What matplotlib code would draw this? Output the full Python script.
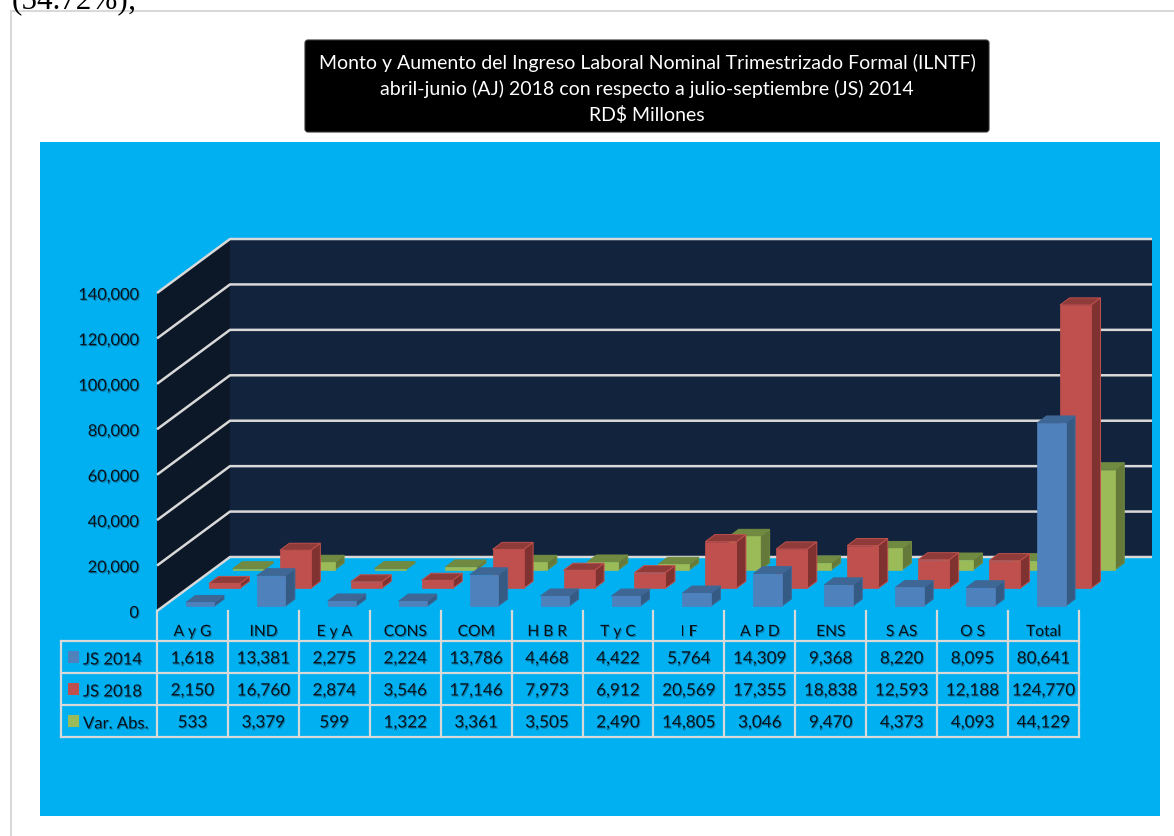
#!/usr/bin/env python3
"""Monto y aumento del ILNTF, columnas 3D simuladas con tabla de datos."""

import matplotlib
matplotlib.use("Agg")
import matplotlib.pyplot as plt
import matplotlib.patheffects as pe
from matplotlib.patches import FancyBboxPatch, Polygon, Rectangle

CATEGORIES = ["A y G", "IND", "E y A", "CONS", "COM", "H B R", "T y C",
              "I F", "A P D", "ENS", "S AS", "O S", "Total"]
JS_2014 = [1618, 13381, 2275, 2224, 13786, 4468, 4422, 5764, 14309, 9368,
           8220, 8095, 80641]
JS_2018 = [2150, 16760, 2874, 3546, 17146, 7973, 6912, 20569, 17355, 18838,
           12593, 12188, 124770]
VAR_ABS = [533, 3379, 599, 1322, 3361, 3505, 2490, 14805, 3046, 9470, 4373,
           4093, 44129]
SERIES_NAMES = ["JS 2014", "JS 2018", "Var. Abs."]
Y_TICKS = [0, 20000, 40000, 60000, 80000, 100000, 120000, 140000]
TITLE = ("Monto y Aumento del Ingreso Laboral Nominal Trimestrizado Formal (ILNTF)\n"
         "abril-junio (AJ) 2018 con respecto a julio-septiembre (JS) 2014\n"
         "RD$ Millones")

W, H = 1174, 837
PANEL = "#00B0F0"
GRID = "#D9D9D9"
INK = "#05121c"
# face, side, top, edge of side and top
COLORS = [("#4F81BD", "#355A84", "#3F6796", "#3F6796"),
          ("#C0504D", "#7F3230", "#8E3B39", "#C0504D"),
          ("#9BBB59", "#657A3A", "#718A41", "#718A41")]

plt.rcParams["font.family"] = ["Lato", "DejaVu Sans"]

fig = plt.figure(figsize=(W / 100, H / 100), dpi=100, facecolor="white")

# page layer, in pixels of the image
page = fig.add_axes([0, 0, 1, 1])
page.set_xlim(0, W)
page.set_ylim(H, 0)
page.axis("off")
page.add_patch(Rectangle((11, 12), 1400, 1000, fc="white", ec="#D9D9D9", lw=1.5))
page.add_patch(Rectangle((40, 143), 1120, 674, fc=PANEL, ec="none"))
page.add_patch(FancyBboxPatch((307, 43), 680, 88, boxstyle="round,pad=2,rounding_size=3",
                              fc="black", ec="#333333", lw=0.8))
page.text(647, 89, TITLE, color="white", fontsize=14.05, ha="center",
          va="center", linespacing=1.55)
page.text(12, 8.5, "(54.72%);", family="Liberation Serif", fontsize=22.4, ha="left",
          va="baseline", color="black")

# chart layer: the front plane of the 3D box
X0, X1, Y0, Y1 = 157, 1079, 612, 294
ax = fig.add_axes([X0 / W, 1 - Y0 / H, (X1 - X0) / W, (Y0 - Y1) / H])
ax.set_xlim(0, len(CATEGORIES))
ax.set_ylim(0, 140000)
ax.axis("off")
ax.patch.set_alpha(0)

DEPTH_X = 73 / ((X1 - X0) / len(CATEGORIES))   # categories
DEPTH_Y = 54 / (Y0 - Y1) * 140000              # value units


def proj(x, v, d):
    """Oblique projection: d=0 is the front plane, d=1 the back wall."""
    return x + d * DEPTH_X, v + d * DEPTH_Y


def poly(points, **kw):
    ax.add_patch(Polygon([proj(*p) for p in points], clip_on=False, **kw))


shadow = [pe.withSimplePatchShadow(offset=(0.8, -0.8), shadow_rgbFace="#006a96", alpha=0.7)]

n = len(CATEGORIES)
top = Y_TICKS[-1]
poly([(0, 0, 0), (0, top, 0), (0, top, 1), (0, 0, 1)], fc="#0C1727", ec="none", zorder=1)
poly([(0, 0, 1), (0, top, 1), (n, top, 1), (n, 0, 1)], fc="#12233D", ec="none", zorder=1)
for t in Y_TICKS:
    xs, ys = zip(proj(0, t, 0), proj(0, t, 1), proj(n, t, 1))
    ax.plot(xs, ys, color=GRID, lw=1.8, zorder=2, clip_on=False, solid_capstyle="butt")
    ax.annotate(f"{t:,}", (0, t), xytext=(-13, -2), textcoords="offset points",
                ha="right", va="center", fontsize=11.8, color=INK,
                annotation_clip=False, path_effects=shadow)

col_w = (X1 - X0) / n
BAR_W = [28.5 / col_w, 31 / col_w, 31 / col_w]
BAR_D = 0.13
D_START = [0.09, 0.42, 0.76]
X_OFF = [0.316, 0.30, 0.285]

for s in (2, 1, 0):
    values = [JS_2014, JS_2018, VAR_ABS][s]
    face, side, cap, edge = COLORS[s]
    for i, v in enumerate(values):
        d0 = D_START[s]
        d1 = d0 + BAR_D
        xl = i + X_OFF[s]
        xr = xl + BAR_W[s]
        z = 5 + (2 - s)
        poly([(xr, 0, d0), (xr, v, d0), (xr, v, d1), (xr, 0, d1)], fc=side, ec=edge, lw=0.7, zorder=z)
        poly([(xl, v, d0), (xr, v, d0), (xr, v, d1), (xl, v, d1)], fc=cap, ec=edge, lw=0.7, zorder=z)
        poly([(xl, 0, d0), (xl, v, d0), (xr, v, d0), (xr, 0, d0)], fc=face, ec=face, lw=0.5, zorder=z)

# data table under the chart, also in image pixels
rows = [642, 674, 706, 738]
TABLE_LEFT = 61
for y in rows:
    page.plot([TABLE_LEFT, X1], [y, y], color=GRID, lw=1.6, zorder=3)
page.plot([TABLE_LEFT, TABLE_LEFT], [rows[0], rows[-1]], color=GRID, lw=1.6, zorder=3)
for i in range(n + 1):
    x = X0 + i * col_w
    page.plot([x, x], [612, rows[-1]], color=GRID, lw=1.6, zorder=3)

for i, name in enumerate(CATEGORIES):
    page.text(X0 + (i + 0.5) * col_w, 633, name, ha="center", va="center", fontsize=11.2,
              color=INK, path_effects=shadow, zorder=4)
for r, values in enumerate([JS_2014, JS_2018, VAR_ABS]):
    yc = (rows[r] + rows[r + 1]) / 2
    page.add_patch(Rectangle((67.5, yc - 6), 11.5, 11.5, fc=COLORS[r][0], ec="none", zorder=4))
    page.text(83, yc + 2.5, SERIES_NAMES[r], ha="left", va="center", fontsize=12,
              color=INK, path_effects=shadow, zorder=4)
    for i, v in enumerate(values):
        page.text(X0 + (i + 0.5) * col_w, yc + 1.5, f"{v:,}", ha="center", va="center",
                  fontsize=12.3, color=INK, path_effects=shadow, zorder=4)

fig.savefig("out.png", dpi=100)
